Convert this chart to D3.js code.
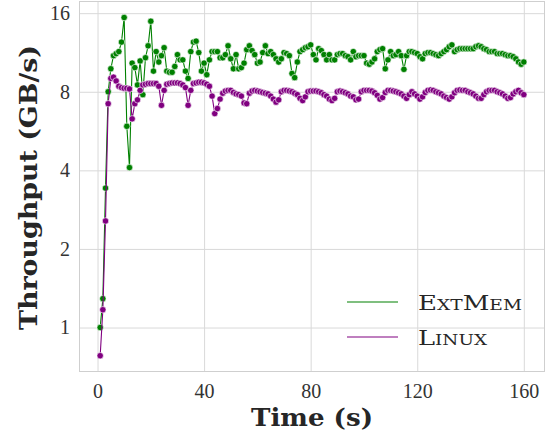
<!DOCTYPE html>
<html>
<head>
<meta charset="utf-8">
<title>Throughput over time</title>
<script src="https://d3js.org/d3.v7.min.js"></script>
<style>
html, body {
  margin: 0;
  padding: 0;
  background: #fff;
}
.grid line {
  stroke: #d9d9d9;
  stroke-width: 1px;
}
.grid path { display: none; }
.grid text {
  font-family: 'Liberation Serif', serif;
  font-size: 20px;
  fill: #333;
}
.frame {
  fill: none;
  stroke: #cfcfcf;
  stroke-width: 1px;
}
.axis-title {
  font-family: 'DejaVu Serif', serif;
  font-weight: bold;
  font-size: 25px;
  fill: #262626;
}
.legend text {
  font-family: 'DejaVu Serif', serif;
  font-size: 21px;
  font-variant: small-caps;
  fill: #262626;
}
.series-line {
  fill: none;
  stroke-width: 1.1px;
}
.dot {
  stroke: #fff;
  stroke-width: 0.6px;
}
</style>
</head>
<body>
<svg width="551" height="440"></svg>
<script>

// time in seconds, one sample per second
var timeS = d3.range(1, 161);

var extmem = [
  1.0, 1.29, 3.42, 8.0, 9.8, 11.0, 11.2, 11.4, 12.4, 15.4,
  5.9, 4.1, 10.3, 9.9, 8.5, 10.5, 7.8, 10.8, 12.0, 14.9,
  9.6, 11.4, 10.4, 11.0, 11.8, 9.6, 9.5, 9.5, 10.0, 11.1,
  10.6, 10.6, 9.6, 9.0, 11.4, 12.4, 12.5, 11.3, 9.6, 10.3,
  9.3, 10.6, 11.4, 11.4, 11.4, 10.8, 10.8, 11.1, 12.0, 10.7,
  9.8, 11.1, 9.8, 9.9, 10.3, 11.6, 12.0, 11.5, 11.1, 10.3,
  10.4, 11.3, 12.0, 11.2, 11.4, 11.1, 10.7, 10.4, 10.7, 11.3,
  11.2, 11.0, 9.4, 9.06, 10.4, 11.4, 11.6, 11.8, 11.9, 12.1,
  11.1, 10.6, 11.7, 11.5, 11.1, 10.6, 11.1, 10.6, 10.6, 11.1,
  11.2, 11.2, 11.0, 10.9, 10.6, 11.4, 10.9, 11.0, 11.0, 11.0,
  10.3, 10.2, 10.4, 10.7, 11.4, 11.6, 11.7, 9.8, 10.6, 11.4,
  11.0, 11.1, 11.4, 11.0, 9.75, 11.0, 11.4, 11.4, 11.3, 11.2,
  10.9, 10.7, 11.2, 11.3, 11.3, 11.2, 11.1, 11.0, 11.2, 11.4,
  11.6, 11.9, 12.1, 11.4, 11.6, 11.7, 11.7, 11.7, 11.7, 11.7,
  11.7, 11.9, 12.0, 11.9, 11.7, 11.6, 11.4, 11.4, 11.4, 11.2,
  11.2, 11.2, 11.1, 11.0, 11.0, 10.9, 10.7, 10.4, 10.2, 10.4
];

var linux = [
  0.78, 1.17, 2.56, 7.2, 9.0, 9.1, 8.8, 8.4, 8.3, 8.25,
  8.25, 8.2, 6.3, 7.2, 7.45, 8.1, 8.5, 8.55, 8.6, 8.6,
  8.6, 8.6, 8.4, 7.1, 8.1, 8.55, 8.6, 8.65, 8.65, 8.65,
  8.6, 8.5, 8.3, 7.1, 8.1, 8.6, 8.65, 8.7, 8.7, 8.65,
  8.55, 8.4, 7.7, 6.6, 6.9, 7.5, 7.9, 8.05, 8.1, 8.1,
  7.95, 7.85, 7.8, 7.7, 7.25, 7.2, 7.9, 8.05, 8.1, 8.05,
  8.0, 7.95, 7.9, 7.85, 7.7, 7.5, 7.3, 7.45, 8.0, 8.1,
  8.1, 8.05, 8.0, 7.9, 7.8, 7.55, 7.4, 7.65, 8.0, 8.05,
  8.05, 8.05, 8.0, 7.93, 7.8, 7.7, 7.5, 7.4, 7.55, 8.0,
  8.05, 8.0, 7.93, 7.85, 7.7, 7.65, 7.45, 7.5, 8.0, 8.1,
  8.1, 8.1, 8.05, 7.93, 7.75, 7.5, 7.6, 7.95, 8.1, 8.1,
  8.05, 8.0, 7.93, 7.85, 7.7, 7.55, 7.8, 8.0, 7.85, 7.7,
  7.5, 7.65, 7.95, 8.1, 8.13, 8.1, 8.0, 7.93, 7.85, 7.7,
  7.6, 7.5, 7.65, 7.93, 8.1, 8.13, 8.1, 8.1, 8.0, 7.93,
  7.85, 7.7, 7.55, 7.55, 7.8, 8.0, 8.1, 8.1, 8.1, 8.0,
  7.93, 7.85, 7.7, 7.55, 7.6, 7.85, 8.0, 8.1, 7.93, 7.8
];

var seriesNames = ["ExtMem", "Linux"];
var seriesColors = ["#008000", "#800080"];
var xTicks = [0, 40, 80, 120, 160];
var yTicks = [1, 2, 4, 8, 16];

var svg = d3.select("svg");

var plotLeft = 79, plotRight = 545, plotTop = 1, plotBottom = 372;

var x = d3.scaleLinear()
    .domain([-6.95, 167.95])
    .range([plotLeft, plotRight]);

var y = d3.scaleLog().base(2)
    .domain([Math.pow(2, -0.566), Math.pow(2, 4.155)])
    .range([plotBottom, plotTop]);

// grid + tick labels
svg.append("g")
    .attr("class", "grid")
    .attr("transform", "translate(0," + plotBottom + ")")
    .call(d3.axisBottom(x)
        .tickValues(xTicks)
        .tickSize(-(plotBottom - plotTop))
        .tickPadding(12)
        .tickFormat(d3.format("d")));

svg.append("g")
    .attr("class", "grid")
    .attr("transform", "translate(" + plotLeft + ",0)")
    .call(d3.axisLeft(y)
        .tickValues(yTicks)
        .tickSize(-(plotRight - plotLeft))
        .tickPadding(9)
        .tickFormat(d3.format("d")));

svg.append("rect")
    .attr("class", "frame")
    .attr("x", plotLeft + 0.5)
    .attr("y", plotTop + 0.5)
    .attr("width", plotRight - plotLeft - 1)
    .attr("height", plotBottom - plotTop - 1);

// series
var data = [extmem, linux];
var line = d3.line()
    .x(function(d, i) { return x(timeS[i]); })
    .y(function(d) { return y(d); });

data.forEach(function(vals, k) {
  var g = svg.append("g");
  g.append("path")
      .datum(vals)
      .attr("class", "series-line")
      .attr("stroke", seriesColors[k])
      .attr("d", line);
  g.selectAll(".dot")
    .data(vals)
    .enter().append("circle")
      .attr("class", "dot")
      .attr("cx", function(d, i) { return x(timeS[i]); })
      .attr("cy", function(d) { return y(d); })
      .attr("r", 3.2)
      .attr("fill", seriesColors[k]);
});

// axis titles (stretched a little to the width of the original LaTeX type)
svg.append("text")
    .attr("class", "axis-title")
    .attr("x", (plotLeft + plotRight) / 2)
    .attr("y", 426)
    .attr("text-anchor", "middle")
    .attr("textLength", 122)
    .attr("lengthAdjust", "spacingAndGlyphs")
    .text("Time (s)");

svg.append("text")
    .attr("class", "axis-title")
    .attr("transform", "translate(37," + ((plotTop + plotBottom) / 2 + 1) + ") rotate(-90)")
    .attr("text-anchor", "middle")
    .attr("textLength", 285)
    .attr("lengthAdjust", "spacingAndGlyphs")
    .text("Throughput (GB/s)");

// legend
var legend = svg.append("g").attr("class", "legend");
var legendY = [302, 337];
var legendW = [104, 69];
seriesNames.forEach(function(name, k) {
  legend.append("line")
      .attr("x1", 347).attr("x2", 398)
      .attr("y1", legendY[k]).attr("y2", legendY[k])
      .attr("stroke", seriesColors[k])
      .attr("stroke-width", 1.1);
  legend.append("text")
      .attr("x", 418)
      .attr("y", legendY[k] + 8)
      .attr("textLength", legendW[k])
      .attr("lengthAdjust", "spacingAndGlyphs")
      .text(name);
});

</script>
</body>
</html>
